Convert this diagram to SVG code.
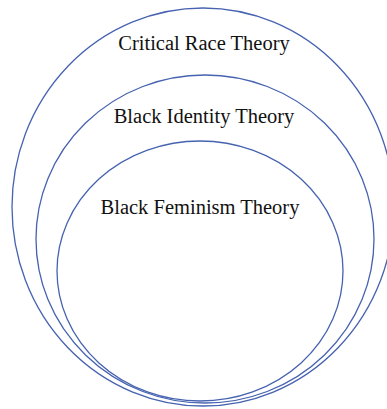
<svg xmlns="http://www.w3.org/2000/svg" width="387" height="409" viewBox="0 0 387 409">
<style>
.ring{fill:none;stroke:#4662b0;stroke-width:1.3}
.lbl{font-family:"Liberation Serif","Times New Roman",serif;font-size:20.5px;fill:#111;text-anchor:middle}
</style>
<rect width="387" height="409" fill="#fff"/>
<g id="critical-race-theory">
<ellipse class="ring" cx="203" cy="207" rx="191" ry="199"/>
<text class="lbl" x="204" y="50">Critical Race Theory</text>
</g>
<g id="black-identity-theory">
<ellipse class="ring" cx="205" cy="239" rx="169" ry="164"/>
<text class="lbl" x="204" y="123">Black Identity Theory</text>
</g>
<g id="black-feminism-theory">
<ellipse class="ring" cx="200" cy="271" rx="143" ry="130"/>
<text class="lbl" x="200" y="214">Black Feminism Theory</text>
</g>
<g id="connectors"/>
</svg>
